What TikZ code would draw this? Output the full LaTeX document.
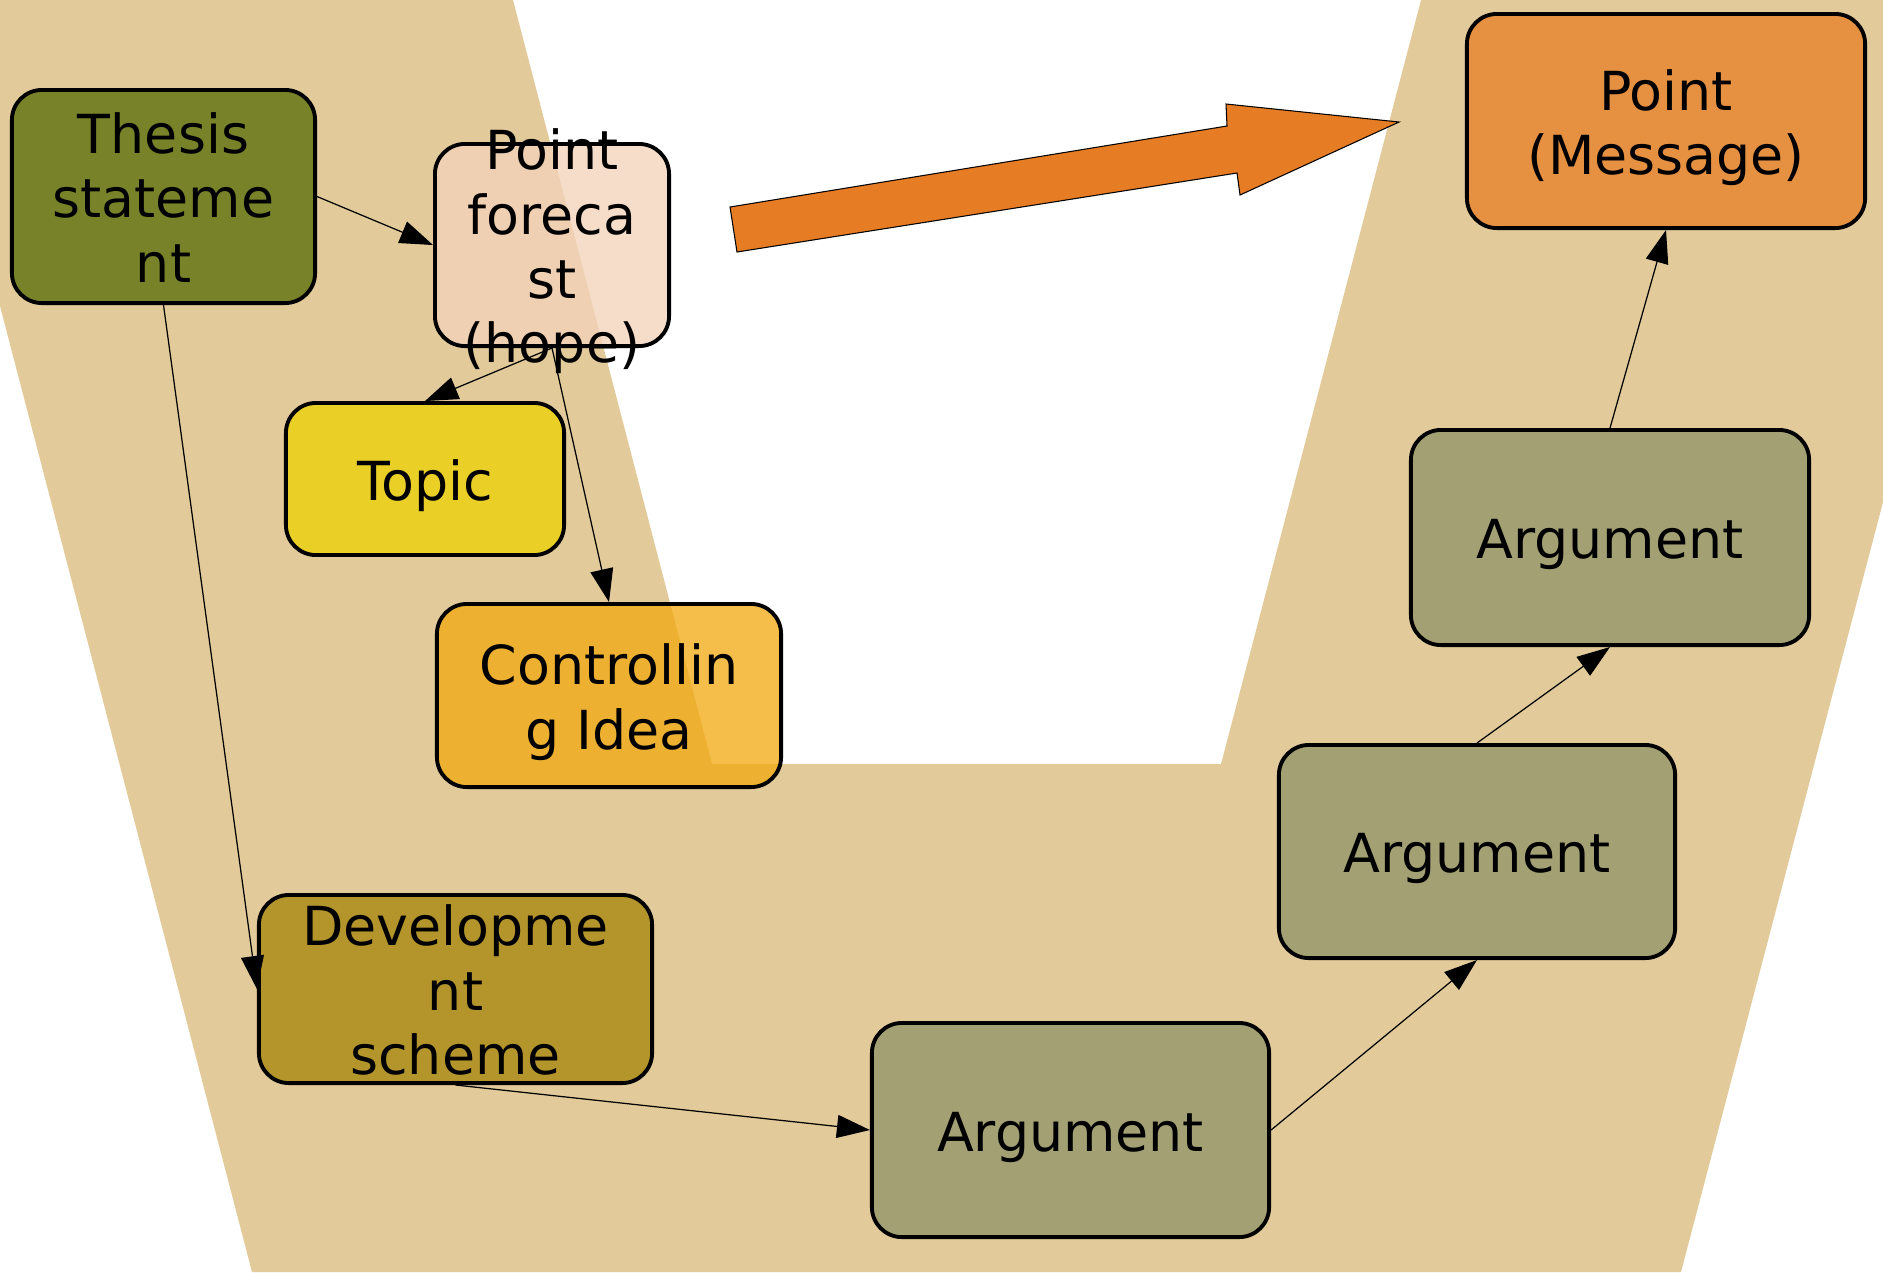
\documentclass[tikz,border=0pt]{standalone}
\usepackage{fontspec}
\setmainfont{DejaVu Sans}
\usetikzlibrary{arrows.meta}
\definecolor{sand}{HTML}{E2CA9A}
\definecolor{thesisgreen}{HTML}{788329}
\definecolor{forecastpink}{HTML}{F3D3BA}
\definecolor{topicyellow}{HTML}{EACF27}
\definecolor{ideaorange}{HTML}{F2A80E}
\definecolor{schemegold}{HTML}{B3952B}
\definecolor{argumentgray}{HTML}{A3A074}
\definecolor{messageorange}{HTML}{E69142}
\definecolor{bigarrow}{HTML}{E67C24}
\newcommand{\boxlines}[1]{\smash{\raisebox{-6pt}{\begin{tabular}{@{}c@{}}#1\end{tabular}}}}

\begin{document}
\begin{tikzpicture}[x=0.01cm,y=-0.01cm,
  box/.style={draw,rounded corners=3mm,line width=1.1pt,inner sep=0pt,text opacity=1,font=\fontsize{15.3}{18.3}\selectfont},
  link/.style={draw,line width=0.35pt,-{Triangle[length=3.3mm,width=2.3mm]}}]
\useasboundingbox (0,0) rectangle (1883,1272);
% background band
\fill[sand] (0,0) -- (513,0) -- (712,764) -- (1221,764) -- (1421,0) -- (1883,0) -- (1883,502) -- (1681,1272) -- (252,1272) -- (0,306) -- cycle;
\filldraw[fill=bigarrow,line width=0.3pt] (730,207) -- (1227,126) -- (1226,104) -- (1399,122) -- (1240,195) -- (1237,173) -- (737,252) -- cycle;

\node[box,fill=thesisgreen,minimum width=3.03cm,minimum height=2.13cm] (thesis) at (163.5,196.5) {\boxlines{Thesis\\stateme\\nt}};
\node[box,fill=forecastpink,fill opacity=0.77,minimum width=2.34cm,minimum height=2.02cm] (forecast) at (552,245) {\boxlines{Point\\foreca\\st\\(hope)}};
\node[box,fill=topicyellow,minimum width=2.78cm,minimum height=1.52cm] (topic) at (425,479) {\boxlines{Topic}};
\node[box,fill=ideaorange,fill opacity=0.75,minimum width=3.44cm,minimum height=1.83cm] (idea) at (609,695.5) {\boxlines{Controllin\\g Idea}};
\node[box,fill=schemegold,minimum width=3.93cm,minimum height=1.88cm] (scheme) at (455.5,989) {\boxlines{Developme\\nt\\scheme}};
\node[box,fill=argumentgray,minimum width=3.97cm,minimum height=2.14cm] (arg1) at (1070.5,1130) {\boxlines{Argument}};
\node[box,fill=argumentgray,minimum width=3.96cm,minimum height=2.13cm] (arg2) at (1477,851.5) {\boxlines{Argument}};
\node[box,fill=argumentgray,minimum width=3.98cm,minimum height=2.15cm] (arg3) at (1610,537.5) {\boxlines{Argument}};
\node[box,fill=messageorange,minimum width=3.98cm,minimum height=2.14cm] (message) at (1666,121) {\boxlines{Point\\(Message)}};

\path[link] (thesis.east) -- (forecast.west);
\path[link] (forecast.south) -- (topic.north);
\path[link] (forecast.south) -- (idea.north);
\path[link] (thesis.south) -- (scheme.west);
\path[link] (scheme.south) -- (arg1.west);
\path[link] (arg1.east) -- (arg2.south);
\path[link] (arg2.north) -- (arg3.south);
\path[link] (arg3.north) -- (message.south);
\end{tikzpicture}
\end{document}
